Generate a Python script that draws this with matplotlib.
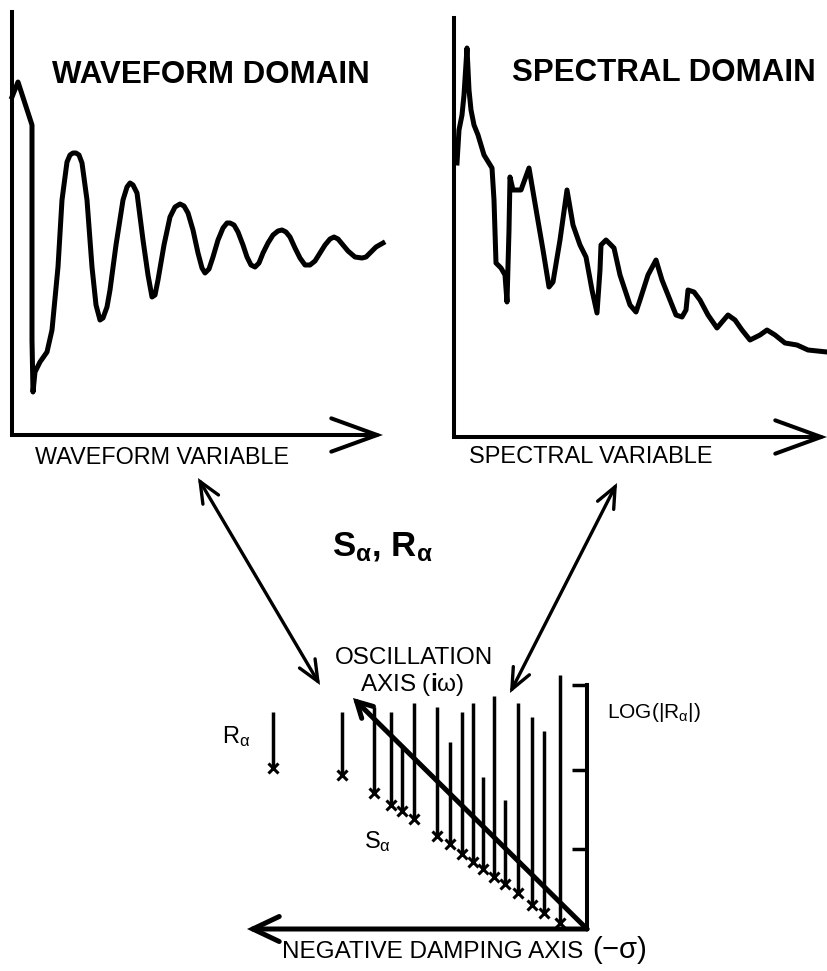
import matplotlib
matplotlib.use("Agg")
import matplotlib.pyplot as plt

plt.rcParams['font.family'] = ['Liberation Sans', 'DejaVu Sans']
plt.rcParams['mathtext.fontset'] = 'custom'
plt.rcParams['mathtext.rm'] = 'Liberation Sans'
plt.rcParams['mathtext.it'] = 'Liberation Sans:italic'
plt.rcParams['mathtext.bf'] = 'Liberation Sans:bold'
plt.rcParams['mathtext.default'] = 'regular'

W, H = 828, 971

# waveform domain: damped oscillation (x = waveform variable, y = amplitude)
wave_t = [0, 6, 20, 20, 21, 23, 28, 35, 40, 46, 50, 55, 58, 61, 64, 67, 70, 75, 80, 84, 88,
          91, 95, 98, 104, 111, 115, 118, 121, 125, 131, 136, 140, 143, 146, 152, 158, 163,
          168, 172, 176, 181, 186, 190, 193, 197, 201, 206, 211, 215, 218, 222, 226, 231,
          235, 239, 243, 247, 251, 256, 261, 266, 270, 274, 278, 283, 288, 293, 298, 303,
          308, 313, 318, 322, 326, 331, 336, 343, 350, 354, 358, 364, 371]
wave_amp = [338, 353, 310, 95, 43, 63, 73, 83, 105, 168, 235, 273, 280, 282, 282, 280, 272,
            235, 168, 130, 115, 117, 128, 145, 190, 235, 248, 252, 250, 242, 195, 160, 138,
            140, 155, 190, 218, 228, 231, 229, 222, 205, 182, 167, 162, 166, 178, 195, 207,
            212, 212, 210, 203, 190, 178, 170, 168, 172, 182, 192, 200, 204, 205, 203, 198,
            187, 177, 170, 170, 174, 182, 190, 196, 198, 196, 190, 184, 178, 177, 178, 182,
            188, 192]

# spectral domain (x = spectral variable, y = magnitude)
spec_f = [3, 5, 8, 10, 13, 15, 17, 20, 24, 30, 38, 40, 42, 47, 51, 53, 55, 56, 59, 67,
          75, 83, 89, 95, 99, 106, 113, 119, 126, 132, 138, 143, 146, 147, 152, 160, 166,
          176, 182, 186, 194, 202, 208, 216, 222, 228, 232, 234, 240, 246, 254, 263, 268,
          274, 281, 288, 296, 306, 313, 321, 331, 343, 354, 373]
spec_mag = [274, 307, 322, 342, 389, 347, 327, 312, 302, 282, 269, 237, 174, 169, 162, 135,
            207, 260, 247, 247, 269, 222, 187, 150, 155, 197, 247, 212, 192, 180, 147, 124,
            167, 192, 197, 189, 162, 132, 125, 137, 162, 177, 157, 137, 122, 120, 127, 147,
            145, 137, 122, 109, 115, 122, 117, 107, 97, 102, 107, 102, 94, 92, 87, 85]

# S-plane poles: damping, base (frequency along the oblique axis), log|R| stem top
pole_damp = [314, 245, 213, 196, 185, 173, 150, 137, 125, 114, 104, 93, 82, 69, 55, 43, 27]
pole_base = [161, 154, 136, 124, 118, 110, 93, 85, 75, 67, 60, 52, 45, 36, 24, 16, 6]
pole_top = [217, 217, 222, 217, 184, 226, 222, 187, 217, 226, 152, 233, 129, 226, 212, 198, 254]
log_ticks = [80, 159, 244]

fig = plt.figure(figsize=(W / 100, H / 100), dpi=100)
fig.patch.set_facecolor('white')


def panel(ox, oy, flip=False):
    a = fig.add_axes([0, 0, 1, 1])
    a.set_facecolor('none')
    a.axis('off')
    if flip:
        a.set_xlim(ox, ox - W)
    else:
        a.set_xlim(-ox, W - ox)
    a.set_ylim(oy - H, oy)
    return a


def arrow(a, start, tip, lw, hl, hw, style='->'):
    a.annotate('', xy=tip, xytext=start,
               arrowprops=dict(arrowstyle=f'{style},head_length={hl},head_width={hw}',
                               mutation_scale=1, lw=lw, color='black',
                               shrinkA=0, shrinkB=0, joinstyle='miter'))


# waveform panel
ax1 = panel(12, 435)
ax1.plot(wave_t, wave_amp, color='black', lw=3.6, solid_joinstyle='round')
ax1.plot([0, 0], [0, 423], color='black', lw=2.9, solid_capstyle='projecting')
arrow(ax1, (0, 0), (371, 0), 2.9, 33, 12)

# spectral panel
ax2 = panel(454, 437)
ax2.plot(spec_f, spec_mag, color='black', lw=3.6, solid_joinstyle='round')
ax2.plot([0, 0], [0, 419], color='black', lw=2.9, solid_capstyle='projecting')
arrow(ax2, (0, 0), (373, 0), 2.9, 33, 12)

# pole diagram (damping grows to the left)
ax3 = panel(587, 929, flip=True)
ax3.vlines(pole_damp, pole_base, pole_top, color='black', lw=2.5)
ax3.plot(pole_damp, pole_base, 'x', color='black', ms=7, mew=2.2)
ax3.plot([0, 0], [0, 244], color='black', lw=2.9, solid_capstyle='projecting')
ax3.hlines(log_ticks, 0, 15, color='black', lw=2.5)
arrow(ax3, (0, 0), (340, 0), 3.6, 19, 9)
arrow(ax3, (0, 0), (234, 231), 3.6, 11, 6)

# overlay for connectors and labels
ov = fig.add_axes([0, 0, 1, 1])
ov.set_facecolor('none')
ov.axis('off')
ov.set_xlim(0, W)
ov.set_ylim(H, 0)

link_start = [(198, 478), (617, 483)]
link_end = [(320, 685), (510, 693)]
for s, e in zip(link_start, link_end):
    arrow(ov, s, e, 2.4, 15, 6.5, style='<->')

ov.text(211, 75, 'WAVEFORM DOMAIN', fontsize=22.5, fontweight='bold', ha='center', va='center')
ov.text(664, 73, 'SPECTRAL DOMAIN', fontsize=22.5, fontweight='bold', ha='center', va='center')
ov.text(35, 458, 'WAVEFORM VARIABLE', fontsize=16.8, ha='left', va='center')
ov.text(469, 457, 'SPECTRAL VARIABLE', fontsize=17, ha='left', va='center')
ov.text(332, 547, r'$\mathbf{S}_{\alpha}$, $\mathbf{R}_{\alpha}$', fontsize=25,
        fontweight='bold', ha='left', va='center')
ov.text(414, 658, 'OSCILLATION', fontsize=17.5, ha='center', va='center')
ov.text(412, 685, r'AXIS $(\mathbf{i}\omega)$', fontsize=17.5, ha='center', va='center')
ov.text(222, 737, r'R$_{\alpha}$', fontsize=17, ha='left', va='center')
ov.text(364, 842, r'S$_{\alpha}$', fontsize=17, ha='left', va='center')
ov.text(607, 713, r'LOG(|R$_{\alpha}$|)', fontsize=15, ha='left', va='center')
ov.text(282, 952, 'NEGATIVE DAMPING AXIS', fontsize=17.5, ha='left', va='center')
ov.text(592, 950, r'$(-\sigma)$', fontsize=21, ha='left', va='center')

fig.savefig('out.png', dpi=100, facecolor='white')
